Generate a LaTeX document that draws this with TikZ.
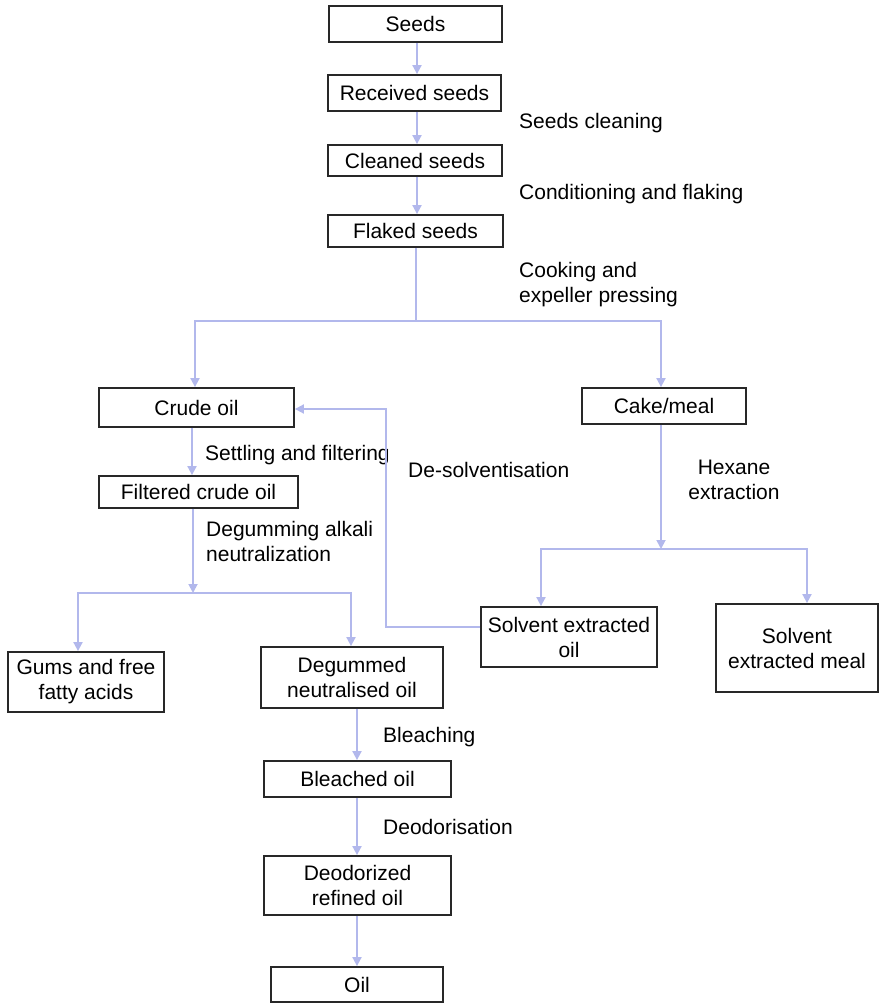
\documentclass[tikz,border=0pt]{standalone}
\usepackage{fontspec}
\setmainfont{Liberation Sans}
\usetikzlibrary{arrows.meta}
\definecolor{flow}{RGB}{178,184,236}
\definecolor{edge}{RGB}{40,40,40}
\tikzset{
  box/.style={draw=edge, line width=1.8pt, inner sep=0pt, align=center,
    font=\fontsize{21}{25}\selectfont},
  lbl/.style={inner sep=0pt, align=left, font=\fontsize{21}{25}\selectfont},
  flowline/.style={draw=flow, line width=1.8pt},
  arr/.style={flowline, -{Triangle[length=9pt,width=9pt]}},
}
\begin{document}
\begin{tikzpicture}[x=1pt,y=-1pt]
\useasboundingbox (0,0) rectangle (879,1003);

% process boxes
\node[box, minimum width=173pt, minimum height=36pt] (seeds) at (415.5,24) {Seeds};
\node[box, minimum width=173pt, minimum height=36pt] (recv) at (414.5,93) {Received seeds};
\node[box, minimum width=174pt, minimum height=31pt] (clean) at (415,160.5) {Cleaned seeds};
\node[box, minimum width=175pt, minimum height=32pt] (flaked) at (415.5,231) {Flaked seeds};
\node[box, minimum width=195pt, minimum height=39pt] (crude) at (196.5,407.5) {Crude oil};
\node[box, minimum width=199pt, minimum height=32pt] (filtered) at (198.5,492) {Filtered crude oil};
\node[box, minimum width=164pt, minimum height=36pt] (cake) at (664,406) {Cake/meal};
\node[box, minimum width=176pt, minimum height=60pt] (seo) at (569,637) {Solvent extracted\\oil};
\node[box, minimum width=162pt, minimum height=88pt] (sem) at (797,648) {Solvent\\extracted meal};
\node[box, minimum width=156pt, minimum height=60pt] (gums) at (86,682) {Gums and free\\fatty acids};
\node[box, minimum width=182pt, minimum height=61pt] (degum) at (352,677.5) {Degummed\\neutralised oil};
\node[box, minimum width=187pt, minimum height=36pt] (bleached) at (357.5,779) {Bleached oil};
\node[box, minimum width=187pt, minimum height=59pt] (deodor) at (357.5,885.5) {Deodorized\\refined oil};
\node[box, minimum width=172pt, minimum height=35pt] (oil) at (357,984.5) {Oil};

% step labels
\node[lbl, anchor=west] (l1) at (519,123) {Seeds cleaning};
\node[lbl, anchor=west] (l2) at (519,194) {Conditioning and flaking};
\node[lbl, anchor=west] (l3) at (519,285) {Cooking and\\expeller pressing};
\node[lbl, anchor=west] (l4) at (205,455) {Settling and filtering};
\node[lbl, anchor=west] (l5) at (408,470) {De-solventisation};
\node[lbl, anchor=west] (l6) at (206,541) {Degumming alkali\\neutralization};
\node[lbl, align=center] (l7) at (734,480) {Hexane\\extraction};
\node[lbl, anchor=west] (l8) at (383,737) {Bleaching};
\node[lbl, anchor=west] (l9) at (383,827) {Deodorisation};

% junction points
\coordinate (j1) at (416,321);
\coordinate (j2) at (661,549);
\coordinate (j3) at (193,593);
\coordinate (fb) at (386,627);

% seed preparation chain
\draw[arr] (seeds.south -| 417,0) -- (recv.north -| 417,0);
\draw[arr] (recv.south -| 417,0) -- (clean.north -| 417,0);
\draw[arr] (clean.south -| 417,0) -- (flaked.north -| 417,0);

% pressing split
\draw[flowline] (flaked.south -| j1) -- (j1);
\draw[arr] (j1) -- (195,321) -- (crude.north -| 195,0);
\draw[arr] (j1) -- (661,321) -- (cake.north -| 661,0);

% crude oil side
\draw[arr] (crude.south -| 192,0) -- (filtered.north -| 192,0);
\draw[arr] (filtered.south -| j3) -- (j3);
\draw[arr] (j3) -- (78,593) -- (gums.north -| 78,0);
\draw[arr] (j3) -- (351,593) -- (degum.north -| 351,0);

% cake/meal side
\draw[arr] (cake.south -| j2) -- (j2);
\draw[arr] (j2) -- (541,549) -- (seo.north -| 541,0);
\draw[arr] (j2) -- (807,549) -- (sem.north -| 807,0);

% de-solventised oil returned to crude oil
\draw[arr] (seo.west |- fb) -- (fb) -- (386,409) -- (crude.east |- 0,409);

% refining chain
\draw[arr] (degum.south -| 357,0) -- (bleached.north -| 357,0);
\draw[arr] (bleached.south -| 357,0) -- (deodor.north -| 357,0);
\draw[arr] (deodor.south -| 357,0) -- (oil.north -| 357,0);
\end{tikzpicture}
\end{document}
